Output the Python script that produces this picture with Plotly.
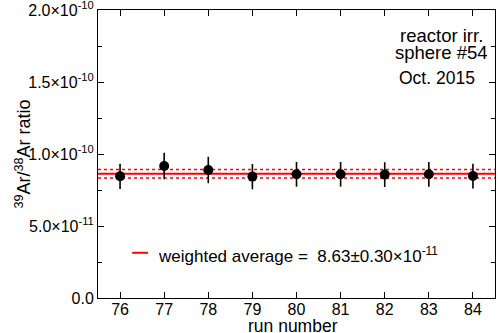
import plotly.graph_objects as go

# data
runs = [76, 77, 78, 79, 80, 81, 82, 83, 84]
ratio = [0.845e-10, 0.917e-10, 0.889e-10, 0.843e-10, 0.859e-10, 0.859e-10, 0.857e-10, 0.859e-10, 0.847e-10]
ratio_err = [0.088e-10, 0.092e-10, 0.092e-10, 0.088e-10, 0.086e-10, 0.086e-10, 0.086e-10, 0.086e-10, 0.086e-10]

w_avg = 0.863e-10
w_err = 0.030e-10

ytick_vals = [0, 0.5e-10, 1.0e-10, 1.5e-10, 2.0e-10]
ytick_text = ['0.0', '5.0×10<sup>-11</sup>', '1.0×10<sup>-10</sup>',
              '1.5×10<sup>-10</sup>', '2.0×10<sup>-10</sup>']
yminor_vals = [0.25e-10, 0.75e-10, 1.25e-10, 1.75e-10]

FONT = 'Liberation Sans, Arial, Helvetica, sans-serif'
x_span = [runs[0] - 0.5, runs[-1] + 0.5]

fig = go.Figure()

# weighted average band
for off in (w_err, -w_err):
    fig.add_trace(go.Scatter(x=x_span, y=[w_avg + off] * 2, mode='lines',
                             line=dict(color='red', width=1.5, dash='dot'),
                             showlegend=False, hoverinfo='skip'))
fig.add_trace(go.Scatter(x=x_span, y=[w_avg] * 2, mode='lines',
                         line=dict(color='red', width=2),
                         showlegend=False, hoverinfo='skip'))

# measurements
fig.add_trace(go.Scatter(
    x=runs, y=ratio, mode='markers',
    marker=dict(color='black', size=10),
    error_y=dict(type='data', array=ratio_err, color='black', thickness=1.6, width=0),
    showlegend=False,
))

# legend sample + text
fig.add_shape(type='line', xref='paper', yref='paper',
              x0=0.086, x1=0.126, y0=0.157, y1=0.157,
              line=dict(color='red', width=2))
fig.add_annotation(xref='paper', yref='paper', x=0.146, y=0.15,
                   xanchor='left', yanchor='middle', showarrow=False,
                   text='weighted average =  8.63±0.30×10<sup>-11</sup>',
                   font=dict(size=17, color='black', family=FONT))

# label block, top right
fig.add_annotation(xref='paper', yref='paper', x=0.866, y=0.911,
                   xanchor='center', yanchor='middle', showarrow=False, borderpad=0,
                   text='reactor irr.', font=dict(size=18.5, color='black', family=FONT))
fig.add_annotation(xref='paper', yref='paper', x=0.864, y=0.851,
                   xanchor='center', yanchor='middle', showarrow=False, borderpad=0,
                   text='sphere #54', font=dict(size=18.5, color='black', family=FONT))
fig.add_annotation(xref='paper', yref='paper', x=0.853, y=0.764,
                   xanchor='center', yanchor='middle', showarrow=False, borderpad=0,
                   text='Oct. 2015', font=dict(size=17.5, color='black', family=FONT))

# axis titles
fig.add_annotation(xref='paper', yref='paper', x=0.491, y=-0.097,
                   xanchor='center', yanchor='middle', showarrow=False,
                   text='run number', font=dict(size=17.5, color='black', family=FONT))
fig.add_annotation(xref='paper', yref='paper', x=-0.19, y=0.5,
                   xanchor='center', yanchor='middle', showarrow=False, textangle=-90,
                   text='<sup>39</sup>Ar/<sup>38</sup>Ar ratio',
                   font=dict(size=18, color='black', family=FONT))

fig.update_layout(
    width=498, height=333,
    margin=dict(l=98, r=3, t=10, b=35),
    plot_bgcolor='white', paper_bgcolor='white',
    font=dict(family=FONT, size=16, color='black'),
)

fig.update_xaxes(
    range=x_span, tickmode='array', tickvals=runs,
    ticks='inside', ticklen=6, tickcolor='black',
    showline=True, linecolor='black', linewidth=1, mirror='allticks',
    showgrid=False, zeroline=False, automargin=False,
    tickfont=dict(size=16), ticklabelstandoff=-3,
)
fig.update_yaxes(
    range=[0, 2.0e-10], tickmode='array', tickvals=ytick_vals, ticktext=ytick_text,
    ticks='inside', ticklen=6, tickcolor='black',
    minor=dict(ticks='inside', ticklen=4, tickcolor='black',
               tickmode='array', tickvals=yminor_vals),
    showline=True, linecolor='black', linewidth=1, mirror='allticks',
    showgrid=False, zeroline=False, automargin=False,
    ticklabeloverflow='allow', tickfont=dict(size=16),
)

# drop the default body margin so the figure sits at the window origin
fig.write_html('out.html', config={'displayModeBar': False},
               post_script="document.body.style.margin='0';")
